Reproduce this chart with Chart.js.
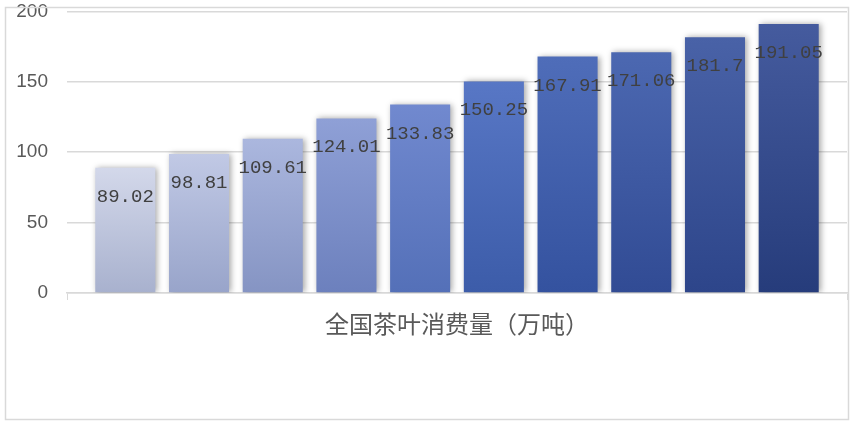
<!DOCTYPE html>
<html>
<head>
<meta charset="utf-8">
<script src="https://cdn.jsdelivr.net/npm/chart.js@4"></script>
<style>
html,body{margin:0;padding:0;background:#fff;}
#wrap{width:852px;height:426px;position:relative;}
</style>
</head>
<body>
<div id="wrap"><canvas id="c" width="852" height="426"></canvas></div>
<script>
// ---- data ----
const categories = ['全国茶叶消费量（万吨）'];
const seriesNames = ['系列1','系列2','系列3','系列4','系列5','系列6','系列7','系列8','系列9','系列10'];
const values = [89.02, 98.81, 109.61, 124.01, 133.83, 150.25, 167.91, 171.06, 181.7, 191.05];
const yTicks = [0, 50, 100, 150, 200];

// ---- styles ----
const topColors = ['#d3d8ea','#c1c9e5','#abb7de','#8fa0d6','#7189cf','#5877c5','#4f6db9','#4c68b1','#4962a7','#455b9e'];
const bottomColors = ['#a8b1ce','#98a4ca','#8594c3','#6c80bd','#5470b8','#3c5ca9','#34529f','#314b94','#2d458a','#263c7b'];

function gradFor(i){
  return function(ctx){
    const chart = ctx.chart;
    const ca = chart.chartArea;
    if(!ca) return topColors[i];
    const ys = chart.scales.y;
    const yTop = ys.getPixelForValue(values[i]);
    const yBot = ys.getPixelForValue(0);
    const g = chart.ctx.createLinearGradient(0, yTop, 0, yBot);
    g.addColorStop(0, topColors[i]);
    g.addColorStop(1, bottomColors[i]);
    return g;
  };
}

const datasets = values.map((v, i) => ({
  label: seriesNames[i],
  data: [v],
  backgroundColor: gradFor(i),
  borderWidth: 0,
  categoryPercentage: 0.945,
  barPercentage: 0.815
}));

const shadowPlugin = {
  id: 'shadow',
  beforeDatasetsDraw(chart){
    const c = chart.ctx;
    c.save();
    c.shadowColor = 'rgba(0,0,0,0.35)';
    c.shadowBlur = 6;
    c.shadowOffsetX = 2;
    c.shadowOffsetY = 0;
  },
  afterDatasetsDraw(chart){
    chart.ctx.restore();
  }
};

const labelPlugin = {
  id: 'valueLabels',
  afterDatasetsDraw(chart){
    const c = chart.ctx;
    c.save();
    c.font = '19px "Liberation Mono", "DejaVu Sans Mono", monospace';
    c.fillStyle = '#404040';
    c.textAlign = 'center';
    c.textBaseline = 'middle';
    chart.data.datasets.forEach((ds, i) => {
      const meta = chart.getDatasetMeta(i);
      meta.data.forEach((bar, j) => {
        c.fillText(String(ds.data[j]), bar.x, bar.y + 29);
      });
    });
    c.restore();
  }
};

const borderPlugin = {
  id: 'outerBorder',
  afterDraw(chart){
    const c = chart.ctx;
    c.save();
    c.strokeStyle = '#d9d9d9';
    c.lineWidth = 1.5;
    c.strokeRect(5.5, 7.5, 843, 412);
    c.restore();
  }
};

new Chart(document.getElementById('c'), {
  type: 'bar',
  data: { labels: categories, datasets: datasets },
  options: {
    responsive: false,
    animation: false,
    devicePixelRatio: 1,
    layout: { padding: { left: 0, right: 5, top: 0, bottom: 0 } },
    plugins: {
      legend: { display: false },
      tooltip: { enabled: false },
      title: { display: false }
    },
    scales: {
      x: {
        offset: true,
        grid: { offset: true, drawOnChartArea: false, drawTicks: true, tickLength: 7, color: '#d9d9d9' },
        border: { display: true, color: '#d9d9d9', width: 1.5 },
        ticks: { color: '#595959', padding: 9, font: { family: '"Noto Sans CJK SC", sans-serif', size: 24 } },
        afterFit(scale){ scale.height = 133; }
      },
      y: {
        min: 0, max: 200,
        afterBuildTicks(scale){ scale.ticks = yTicks.map(v => ({ value: v })); },
        grid: { color: '#d9d9d9', lineWidth: 1.5, drawTicks: true, tickLength: 19, tickColor: 'rgba(0,0,0,0)' },
        border: { display: false },
        ticks: { color: '#595959', padding: 0, font: { family: '"Liberation Sans", Arial, sans-serif', size: 19 } },
        afterFit(scale){ scale.width = 67; }
      }
    }
  },
  plugins: [shadowPlugin, labelPlugin, borderPlugin]
});
</script>
</body>
</html>
